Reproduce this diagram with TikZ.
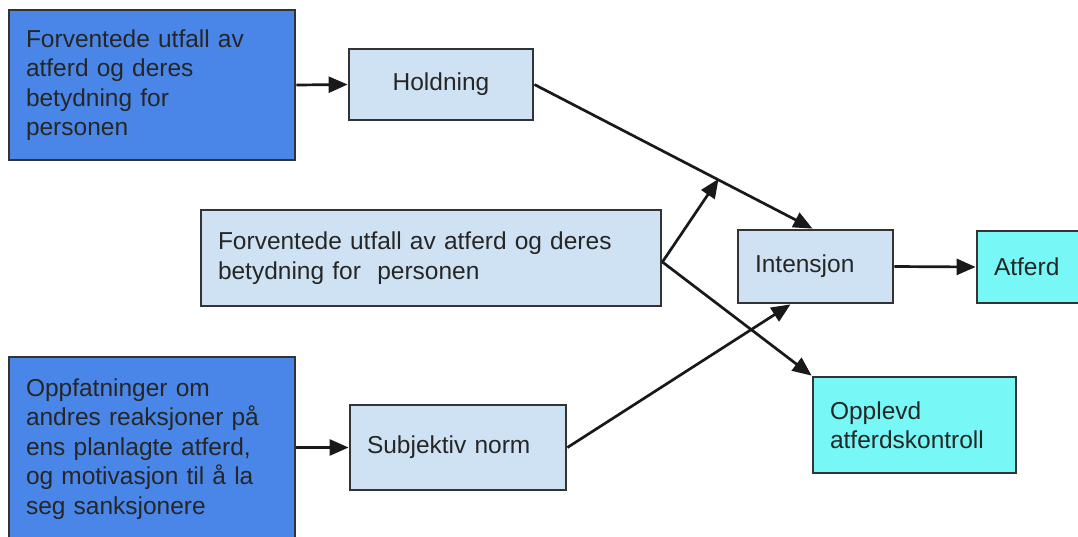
\documentclass[tikz,border=0pt]{standalone}
\usepackage{fontspec}
\setmainfont{Liberation Sans}
\usetikzlibrary{arrows.meta,calc}
\definecolor{dblue}{HTML}{4A86E8}
\definecolor{lblue}{HTML}{CFE2F3}
\definecolor{lcyan}{HTML}{78F7F7}
\definecolor{bord}{HTML}{333333}
\definecolor{txt}{HTML}{262626}
\begin{document}
\begin{tikzpicture}[x=1pt,y=-1pt,
  box/.style={draw=bord,line width=2.8pt,rectangle,inner xsep=17pt,inner ysep=0pt,
    align=left,text=txt,font=\fontsize{24.5}{29.5}\selectfont},
  darkbox/.style={box,fill=dblue},
  lightbox/.style={box,fill=lblue},
  cyanbox/.style={box,fill=lcyan},
  conn/.style={draw=black!90,line width=2.7pt,-{Triangle[length=19pt,width=16pt]}}]
\useasboundingbox (0,0) rectangle (1078,536);
\clip (0,0) rectangle (1078,536);
\fill[white] (0,0) rectangle (1078,536);
% nodes
\node[darkbox,minimum width=286pt,minimum height=150pt,text width=252pt] (A) at (152,85)
  {Forventede utfall av\\atferd og deres\\betydning for\\personen};
\node[lightbox,minimum width=184pt,minimum height=71pt,text width=150pt,align=center] (Hold) at (441,84.5)
  {Holdning};
\node[lightbox,minimum width=460pt,minimum height=96pt,text width=426pt] (Mid) at (431,258)
  {Forventede utfall av atferd og deres\\betydning for\ \ personen};
\node[lightbox,minimum width=155pt,minimum height=73pt,text width=121pt] (Int) at (815.5,266.5)
  {Intensjon};
\node[cyanbox,minimum width=130pt,minimum height=72pt,text width=96pt] (Atf) at (1042,267)
  {Atferd};
\node[cyanbox,minimum width=203pt,minimum height=96pt,text width=169pt] (Opp) at (914.5,425)
  {Opplevd\\atferdskontroll};
\node[lightbox,minimum width=216pt,minimum height=85pt,text width=182pt] (Subj) at (458,447.5)
  {Subjektiv norm};
\node[darkbox,minimum width=286pt,minimum height=184pt,text width=252pt] (C) at (152,449)
  {Oppfatninger om\\andres reaksjoner på\\ens planlagte atferd,\\og motivasjon til å la\\seg sanksjonere};
% connectors
\coordinate (J) at ($(Hold.east)!0.655!(Int.north)$);
\coordinate (M) at ([yshift=-4pt]Mid.east);
\draw[conn] (A.east) -- (Hold.west);
\draw[conn] (Hold.east) -- ([xshift=-3pt]Int.north);
\draw[conn] (M) -- (J);
\draw[conn] (M) -- (Opp.north west);
\draw[conn] (Subj.east) -- ([xshift=-25pt]Int.south);
\draw[conn] (Int.east) -- (Atf.west);
\draw[conn] (C.east |- Subj.west) -- (Subj.west);
\end{tikzpicture}
\end{document}
